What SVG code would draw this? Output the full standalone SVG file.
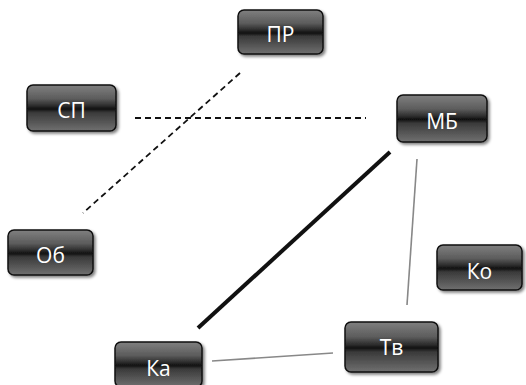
<svg xmlns="http://www.w3.org/2000/svg" width="526" height="385" viewBox="0 0 526 385">
  <defs>
    <linearGradient id="btn" x1="0" y1="0" x2="0" y2="1">
      <stop offset="0" stop-color="#808080"/>
      <stop offset="0.3" stop-color="#5c5c5c"/>
      <stop offset="0.46" stop-color="#2a2a2a"/>
      <stop offset="0.52" stop-color="#111"/>
      <stop offset="0.6" stop-color="#3a3a3a"/>
      <stop offset="1" stop-color="#707070"/>
    </linearGradient>
    <filter id="shadow" x="-10%" y="-10%" width="125%" height="130%">
      <feGaussianBlur in="SourceAlpha" stdDeviation="1.5"/>
      <feOffset dx="1.5" dy="2" result="b"/>
      <feComponentTransfer><feFuncA type="linear" slope="0.5"/></feComponentTransfer>
      <feMerge><feMergeNode/><feMergeNode in="SourceGraphic"/></feMerge>
    </filter>
  </defs>
  <style>
    .box { fill: url(#btn); stroke: #111; stroke-width: 1.5; filter: url(#shadow); }
    .lbl { fill: #fff; font-family: "Open Sans", "Noto Sans", sans-serif; font-size: 21px; text-anchor: middle; dominant-baseline: central; }
    .dash { stroke: #111; stroke-width: 1.8; stroke-dasharray: 6 4; fill: none; }
    .thick { stroke: #111; stroke-width: 4; fill: none; }
    .thin { stroke: #888; stroke-width: 1.6; fill: none; }
  </style>
  <rect width="526" height="385" fill="#fff"/>

  <g id="connectors">
    <line class="dash" x1="240" y1="73" x2="83" y2="213"/>
    <line class="dash" x1="135" y1="118" x2="366" y2="118"/>
    <line class="thick" x1="390" y1="152" x2="198" y2="328"/>
    <line class="thin" x1="417" y1="159" x2="407" y2="305"/>
    <line class="thin" x1="212" y1="361" x2="333" y2="353"/>
  </g>

  <g id="node-pr">
    <rect class="box" x="238" y="10" width="85" height="44" rx="6"/>
    <text class="lbl" x="280.5" y="34">ПР</text>
  </g>
  <g id="node-sp">
    <rect class="box" x="27" y="85" width="89" height="46" rx="6"/>
    <text class="lbl" x="71.5" y="110">СП</text>
  </g>
  <g id="node-mb">
    <rect class="box" x="397" y="95" width="90" height="47" rx="6"/>
    <text class="lbl" x="442" y="121">МБ</text>
  </g>
  <g id="node-ob">
    <rect class="box" x="8" y="230" width="85" height="45" rx="6"/>
    <text class="lbl" x="50.5" y="255">Об</text>
  </g>
  <g id="node-ko">
    <rect class="box" x="437" y="245" width="85" height="45" rx="6"/>
    <text class="lbl" x="479.5" y="271">Ко</text>
  </g>
  <g id="node-ka">
    <rect class="box" x="115" y="342" width="87" height="45" rx="6"/>
    <text class="lbl" x="158.5" y="368">Ка</text>
  </g>
  <g id="node-tv">
    <rect class="box" x="345" y="322" width="93" height="50" rx="6"/>
    <text class="lbl" x="391.5" y="347">Тв</text>
  </g>
</svg>
